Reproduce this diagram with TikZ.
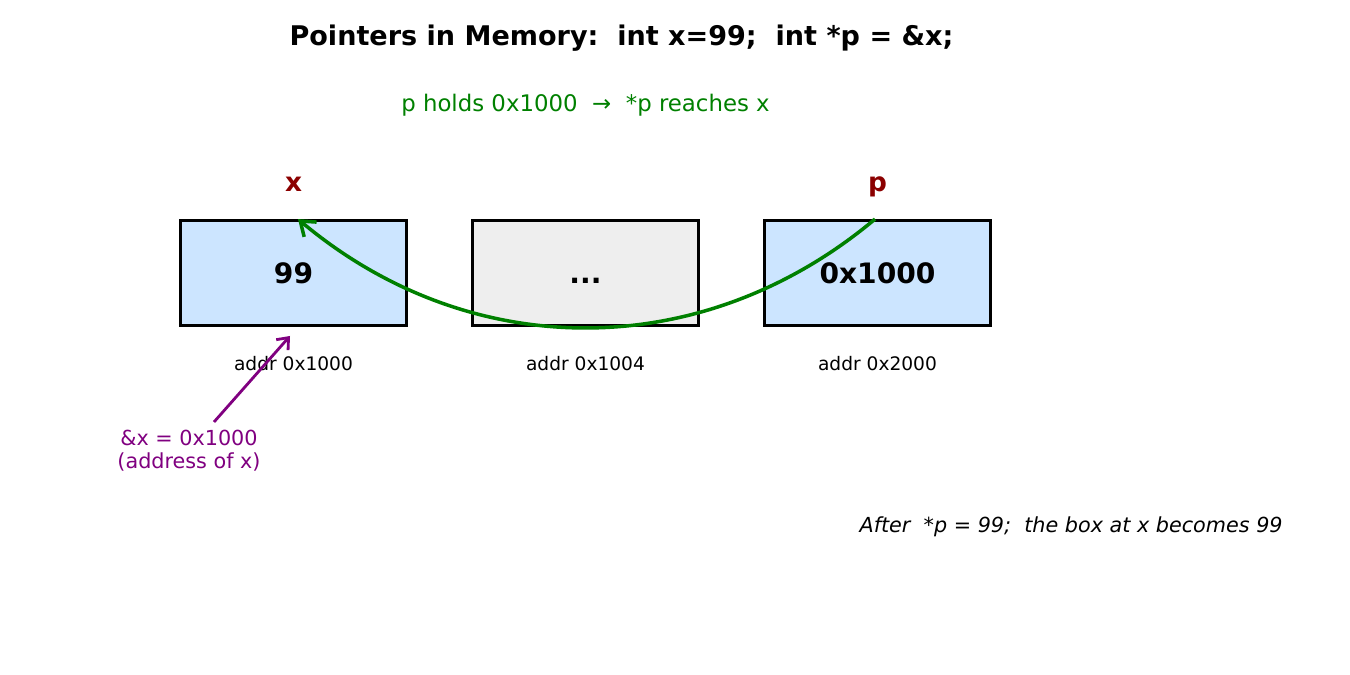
\documentclass[tikz,border=0pt]{standalone}
\usepackage{fontspec}
\setmainfont{DejaVu Sans}
\usetikzlibrary{arrows.meta}
\definecolor{cellblue}{RGB}{204,229,255}
\definecolor{cellgray}{RGB}{238,238,238}
\definecolor{namered}{RGB}{139,0,0}
\definecolor{ptrgreen}{RGB}{0,128,0}
\definecolor{refpurple}{RGB}{128,0,128}
\begin{document}
\begin{tikzpicture}[x=0.02cm,y=-0.02cm,
    cell/.style={draw=black,line width=1.6pt,minimum width=4.52cm,minimum height=2.1cm,inner sep=0pt,
      text height=11.7pt,text depth=0pt,font=\bfseries\fontsize{16}{19}\selectfont},
    varname/.style={anchor=base,text=namered,font=\bfseries\fontsize{15}{18}\selectfont},
    addrlabel/.style={font=\fontsize{10.6}{13}\selectfont},
    ptrarrow/.style={draw=ptrgreen,line width=2pt,-{Straight Barb[length=7.5pt,width=11pt,line width=2pt]}},
    refarrow/.style={draw=refpurple,line width=1.6pt,-{Straight Barb[length=5.5pt,width=9pt,line width=1.6pt]}}]
    \useasboundingbox (0,0) rectangle (1350,675);

    \node[anchor=base,font=\bfseries\fontsize{15.4}{18}\selectfont] (title) at (621.5,45.5) {Pointers in Memory:\ \ int x=99;\ \ int *p = \&x;};
    \node[anchor=base,text=ptrgreen,font=\fontsize{13}{16}\selectfont] (subtitle) at (585.5,111.5) {p holds 0x1000\ \ →\ \ *p reaches x};

    % memory cells
    \node[cell,fill=cellblue] (xbox) at (293.5,273) {99};
    \node[cell,fill=cellgray] (gapbox) at (585.5,273) {...};
    \node[cell,fill=cellblue] (pbox) at (877.5,273) {0x1000};

    \node[varname] (xname) at (293.5,192) {x};
    \node[varname] (pname) at (877.5,192) {p};

    \node[addrlabel] (xaddr) at (293.5,364) {addr 0x1000};
    \node[addrlabel] (gapaddr) at (585.5,364) {addr 0x1004};
    \node[addrlabel] (paddr) at (877.5,364) {addr 0x2000};

    % p points back to x
    \draw[ptrarrow] ([xshift=-0.05cm]pbox.north) to[bend left=40] ([xshift=0.09cm]xbox.north);

    % address-of note
    \node[text=refpurple,align=center,font=\fontsize{11.8}{13.1}\selectfont] (amp) at (189,451) {\&x = 0x1000\\(address of x)};
    \coordinate (amptail) at (214,422);
    \coordinate (amphead) at (290,336);
    \draw[refarrow] (amptail) -- (amphead);

    \node[anchor=east,inner sep=0pt,font=\itshape\fontsize{11.8}{14}\selectfont] (note) at (1283,527) {After\ \ *p = 99;\ \ the box at x becomes 99};
\end{tikzpicture}
\end{document}
